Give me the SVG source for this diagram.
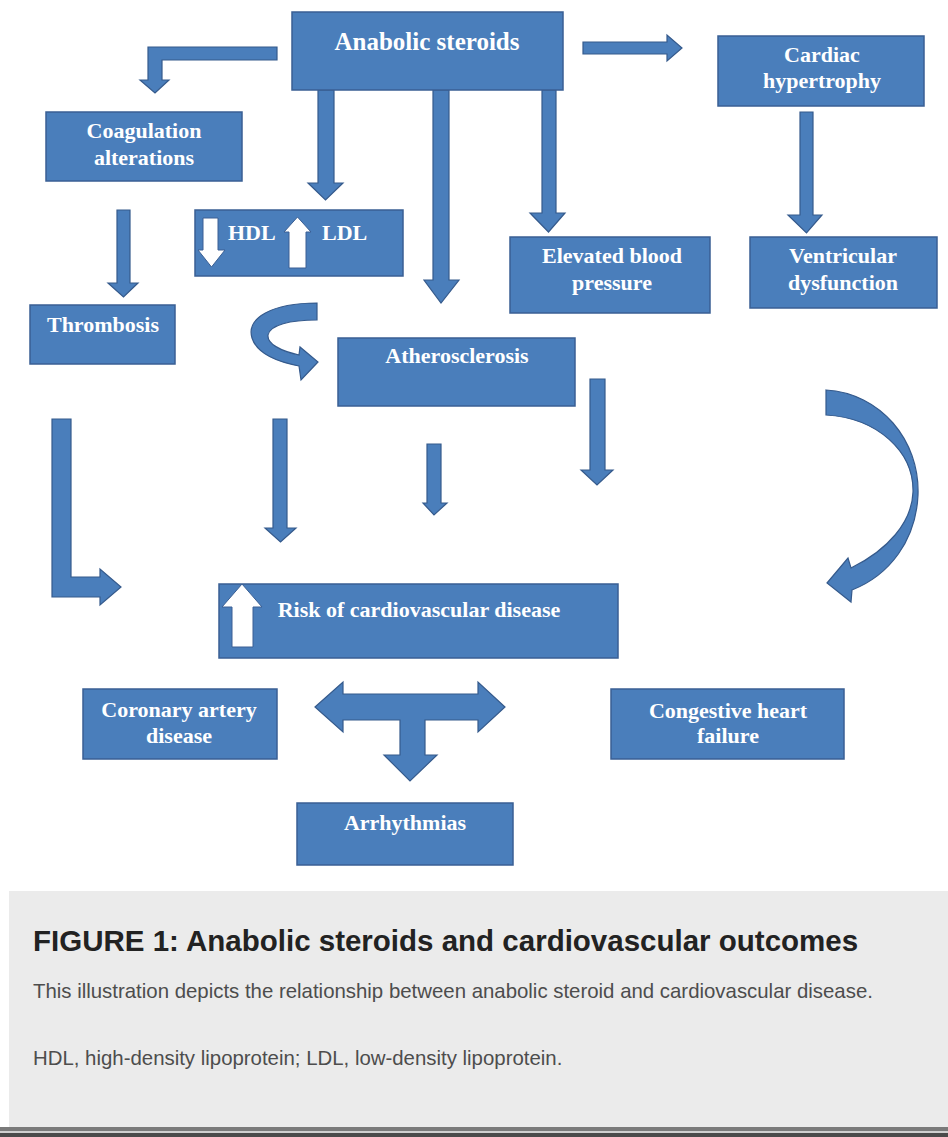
<svg xmlns="http://www.w3.org/2000/svg" width="948" height="1137" viewBox="0 0 948 1137">
<style>
.box{fill:#4a7ebb;stroke:#3a5f94;stroke-width:1.5}
.arr{fill:#4a7ebb;stroke:#355a8c;stroke-width:1.2;stroke-linejoin:miter}
.warr{fill:#ffffff;stroke:#3a5f94;stroke-width:1}
.lbl{font-family:"Liberation Serif","Times New Roman",serif;font-weight:bold;font-size:22px;fill:#ffffff;text-anchor:middle}
.big{font-size:25px}
.st{text-anchor:start}
.cap{font-family:"Liberation Sans",Arial,sans-serif;fill:#4d4d4d;font-size:20.4px}
.ttl{font-family:"Liberation Sans",Arial,sans-serif;fill:#222222;font-size:29.5px;font-weight:bold}
</style>
<rect x="0" y="0" width="948" height="1137" fill="#ffffff"/>

<g id="connectors">
<polygon class="arr" points="277,47 148,47 148,80 140,80 155,93 169,80 162,80 162,60 277,60"/>
<polygon class="arr" points="583,42 667,42 667,35 682,48 667,61 667,54 583,54"/>
<polygon class="arr" points="318,90 334,90 334,183 343,183 325.5,200 308,183 318,183"/>
<polygon class="arr" points="433,90 449,90 449,280 459,280 441,303 424,280 433,280"/>
<polygon class="arr" points="542,90 556,90 556,213 565,213 548.5,232 530,213 542,213"/>
<polygon class="arr" points="800,112 813,112 813,215 822,215 806.5,233 788,215 800,215"/>
<polygon class="arr" points="117,210 130,210 130,283 138,283 123.5,297 108,283 117,283"/>
<polygon class="arr" points="273,419 287,419 287,528 296,528 280.5,542 265,528 273,528"/>
<polygon class="arr" points="427,444 441,444 441,503 447,503 434,515 423,503 427,503"/>
<polygon class="arr" points="590,379 605,379 605,470 613,470 597,485 581,470 590,470"/>
<polygon class="arr" points="52,419 71,419 71,577 100,577 100,569 121,587 100,605 100,597 52,597"/>
<path class="arr" d="M317,303 C272,303 246,318 252,338 C257,354 278,362 299,366 L301,380 L318,362 L300,347 L299,355 C281,351 267,344 268,335 C270,325 290,320 317,320 Z"/>
<path class="arr" d="M826,390 C880,393 920,440 918,495 C916,540 890,575 852,590 L851,602 L827,583 L848,558 L851,568 C888,550 912,522 913,492 C914,452 878,418 826,415 Z"/>
<polygon class="arr" points="315,707 343,682 343,694 478,694 478,682 505,707 478,732 478,720 425,720 425,755 437,755 410,781 384,755 400,755 400,720 343,720 343,732"/>
</g>

<g id="anabolic">
<rect class="box" x="292" y="12" width="271" height="78"/>
<text class="lbl big" x="427" y="50">Anabolic steroids</text>
</g>
<g id="coagulation">
<rect class="box" x="46" y="112" width="196" height="69"/>
<text class="lbl" x="144" y="138">Coagulation</text>
<text class="lbl" x="144" y="165">alterations</text>
</g>
<g id="hdl-ldl">
<rect class="box" x="195" y="210" width="208" height="66"/>
<polygon class="warr" points="203,218 218,218 218,250 225,250 211.5,267 198,250 203,250"/>
<text class="lbl st" x="228" y="240">HDL</text>
<polygon class="warr" points="297.5,217 311,232 306,232 306,268 289,268 289,232 284,232"/>
<text class="lbl st" x="322" y="240">LDL</text>
</g>
<g id="elevated-bp">
<rect class="box" x="510" y="237" width="200" height="76"/>
<text class="lbl" x="612" y="263">Elevated blood</text>
<text class="lbl" x="612" y="290">pressure</text>
</g>
<g id="cardiac-hypertrophy">
<rect class="box" x="718" y="36" width="206" height="70"/>
<text class="lbl" x="822" y="62">Cardiac</text>
<text class="lbl" x="822" y="88">hypertrophy</text>
</g>
<g id="ventricular">
<rect class="box" x="750" y="237" width="187" height="71"/>
<text class="lbl" x="843" y="263">Ventricular</text>
<text class="lbl" x="843" y="290">dysfunction</text>
</g>
<g id="thrombosis">
<rect class="box" x="30" y="305" width="145" height="59"/>
<text class="lbl" x="103" y="332">Thrombosis</text>
</g>
<g id="atherosclerosis">
<rect class="box" x="338" y="338" width="237" height="68"/>
<text class="lbl" x="457" y="363">Atherosclerosis</text>
</g>
<g id="risk">
<rect class="box" x="219" y="584" width="399" height="74"/>
<polygon class="warr" points="242,584 262,607 253,607 253,647 232,647 232,607 222,607"/>
<text class="lbl" x="419" y="617">Risk of cardiovascular disease</text>
</g>
<g id="coronary">
<rect class="box" x="83" y="689" width="194" height="70"/>
<text class="lbl" x="179" y="717">Coronary artery</text>
<text class="lbl" x="179" y="743">disease</text>
</g>
<g id="congestive">
<rect class="box" x="611" y="689" width="233" height="70"/>
<text class="lbl" x="728" y="718">Congestive heart</text>
<text class="lbl" x="728" y="743">failure</text>
</g>
<g id="arrhythmias">
<rect class="box" x="297" y="803" width="216" height="62"/>
<text class="lbl" x="405" y="830">Arrhythmias</text>
</g>

<g id="caption">
<rect x="9" y="891" width="939" height="236" fill="#ebebeb"/>
<rect x="0" y="1127" width="948" height="4" fill="#7a7a7a"/>
<rect x="0" y="1131" width="948" height="2" fill="#cfcfcf"/>
<rect x="0" y="1133" width="948" height="4" fill="#4a4a4a"/>
<text class="ttl" x="33" y="951">FIGURE 1: Anabolic steroids and cardiovascular outcomes</text>
<text class="cap" x="33" y="998">This illustration depicts the relationship between anabolic steroid and cardiovascular disease.</text>
<text class="cap" x="33" y="1065">HDL, high-density lipoprotein; LDL, low-density lipoprotein.</text>
</g>
</svg>
